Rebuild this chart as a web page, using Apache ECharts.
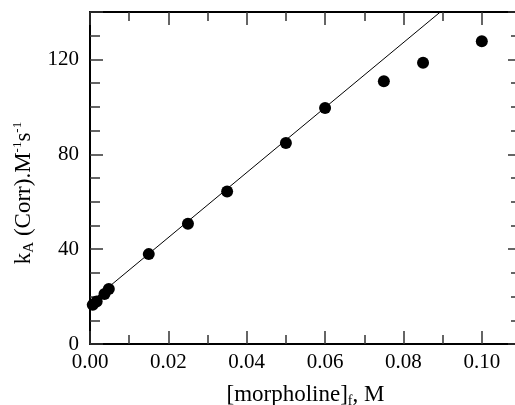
<!DOCTYPE html>
<html><head><meta charset="utf-8">
<script src="https://cdn.jsdelivr.net/npm/echarts@6/dist/echarts.min.js"></script>
<style>html,body{margin:0;padding:0;background:#fff}#c{width:515px;height:405px}</style>
</head><body><div id="c"></div>
<script>
const xValues = [0.0007, 0.0017, 0.0037, 0.0048, 0.015, 0.025, 0.035, 0.05, 0.06, 0.075, 0.085, 0.1];
const yValues = [16.5, 17.9, 21.1, 23.2, 37.9, 50.7, 64.3, 84.8, 99.5, 110.8, 118.6, 127.7];
const fitX = [0, 0.0894];
const fitY = [17.5, 140];
const xTickLabels = ['0.00', '0.02', '0.04', '0.06', '0.08', '0.10'];
const yTickLabels = ['0', '40', '80', '120'];

const FONT = 'Liberation Serif';
const X_MIN = 0, X_MAX = 0.11, Y_MIN = 0, Y_MAX = 140;

function xAx(pos, interval, len, labels, line) {
  return {
    type: 'value', position: pos, min: X_MIN, max: X_MAX, interval: interval,
    axisLine: {show: line, onZero: false, lineStyle: {color: '#000', width: 2}},
    axisTick: {show: true, inside: true, length: len, lineStyle: {color: '#333', width: 1.5}},
    axisLabel: labels ? {
      show: true, margin: 8, color: '#000', fontFamily: FONT, fontSize: 21, hideOverlap: false,
      formatter: function (v) { const s = v.toFixed(2); return xTickLabels.indexOf(s) >= 0 ? s : ''; }
    } : {show: false},
    splitLine: {show: false}
  };
}
function yAx(pos, interval, len, labels, line) {
  return {
    type: 'value', position: pos, min: Y_MIN, max: Y_MAX, interval: interval,
    axisLine: {show: line, onZero: false, lineStyle: {color: '#000', width: 2}},
    axisTick: {show: true, inside: true, length: len, lineStyle: {color: '#333', width: 1.5}},
    axisLabel: labels ? {
      show: true, margin: 11, color: '#000', fontFamily: FONT, fontSize: 21, hideOverlap: false,
      formatter: function (v) { const s = String(Math.round(v)); return yTickLabels.indexOf(s) >= 0 ? s : ''; }
    } : {show: false},
    splitLine: {show: false}
  };
}

const xMain = xAx('bottom', 0.02, 13, true, true);
xMain.name = '{n|[morpholine]}{s|f}{n|, M}';
xMain.nameLocation = 'middle';
xMain.nameGap = 38;
xMain.nameTextStyle = {
  rich: {
    n: {fontFamily: FONT, fontSize: 23, color: '#000', lineHeight: 26},
    s: {fontFamily: FONT, fontSize: 14, color: '#000', verticalAlign: 'bottom', padding: [8, 0, 0, 0]}
  }
};
const yMain = yAx('left', 40, 13, true, true);
yMain.name = '{n|k}{s|A}{n| (Corr).M}{p|-1}{n|s}{p|-1}';
yMain.nameLocation = 'middle';
yMain.nameGap = 52;
yMain.nameRotate = 90;
yMain.nameTextStyle = {
  padding: [0, 30, 0, 0],
  rich: {
    n: {fontFamily: FONT, fontSize: 23, color: '#000', lineHeight: 26},
    s: {fontFamily: FONT, fontSize: 15, color: '#000', verticalAlign: 'bottom', padding: [4, 0, 0, 0]},
    p: {fontFamily: FONT, fontSize: 13, color: '#000', verticalAlign: 'top', padding: [0, 0, 8, 0]}
  }
};

const option = {
  animation: false,
  backgroundColor: '#fff',
  grid: {left: 90, top: 12, width: 431, height: 332, containLabel: false, outerBoundsMode: 'none'},
  xAxis: [
    xMain,
    xAx('bottom', 0.01, 9, false, false),
    xAx('top', 0.02, 13, false, true),
    xAx('top', 0.01, 9, false, false)
  ],
  yAxis: [
    yMain,
    yAx('left', 10, 10, false, false),
    yAx('right', 40, 13, false, true),
    yAx('right', 10, 10, false, false)
  ],
  series: [
    {
      type: 'line', xAxisIndex: 0, yAxisIndex: 0,
      data: fitX.map((x, i) => [x, fitY[i]]),
      showSymbol: false, symbol: 'none', clip: true,
      lineStyle: {color: '#000', width: 1}
    },
    {
      type: 'scatter', xAxisIndex: 0, yAxisIndex: 0,
      data: xValues.map((x, i) => [x, yValues[i]]),
      symbol: 'circle', symbolSize: 12,
      itemStyle: {color: '#000', opacity: 1}
    }
  ]
};
echarts.init(document.getElementById('c'), null, {renderer: 'canvas'}).setOption(option);
</script></body></html>
